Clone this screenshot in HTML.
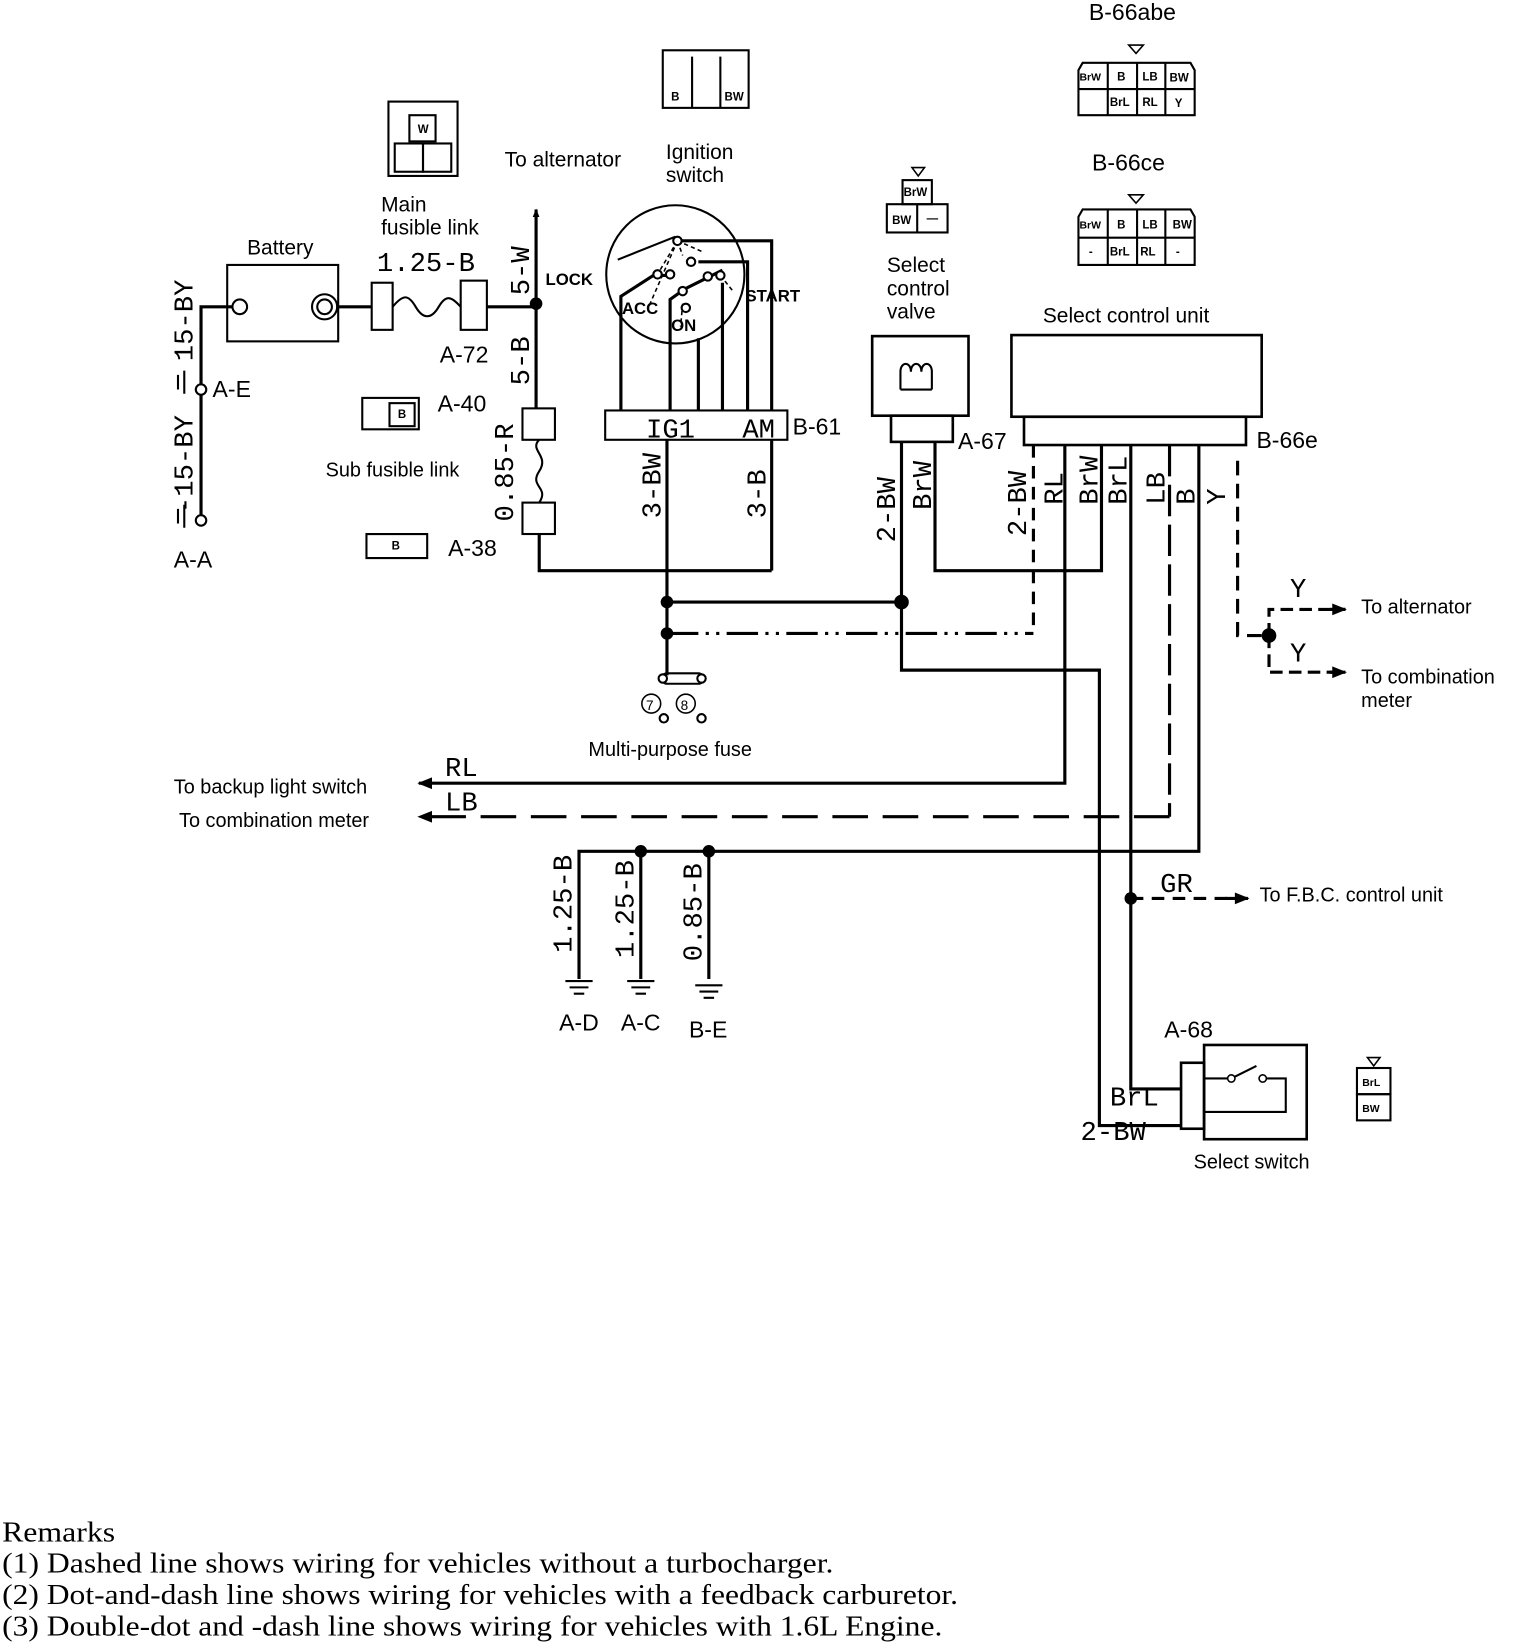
<!DOCTYPE html>
<html><head><meta charset="utf-8"><style>
html,body{margin:0;padding:0;background:#fff;}
svg{display:block;}
text{font-family:"Liberation Sans",sans-serif;fill:#000;}
.m text, text.m{font-family:"Liberation Mono",monospace;}
.s text, text.s{font-family:"Liberation Serif",serif;}
</style></head><body>
<svg width="1536" height="1646" viewBox="0 0 1467 1572" xmlns="http://www.w3.org/2000/svg">
<defs>
<marker id="ar" viewBox="0 0 10 10" refX="9" refY="5" markerWidth="8" markerHeight="8" orient="auto" markerUnits="userSpaceOnUse"><path d="M0,1 L10,5 L0,9z" fill="#000"/></marker>
<marker id="ar2" viewBox="0 0 10 10" refX="9" refY="5" markerWidth="24" markerHeight="14" orient="auto" markerUnits="userSpaceOnUse"><path d="M0,1 L10,5 L0,9z" fill="#000"/></marker>
</defs>
<g fill="none" stroke="#000" stroke-width="3">
<rect x="217" y="253" width="106" height="73" stroke-width="2"/>
<circle cx="229" cy="293" r="7" stroke-width="2"/>
<circle cx="310" cy="293" r="12" stroke-width="2"/><circle cx="310" cy="293" r="7" stroke-width="2"/>
<path d="M222,293 H192 V500"/>
<path d="M170,372 v-14 M176,376 v-22 M170,500 v-14 M176,504 v-22" stroke-width="2"/>
<circle cx="192" cy="372" r="5" fill="#fff" stroke-width="2"/>
<circle cx="192" cy="497" r="5" fill="#fff" stroke-width="2"/>
<path d="M322,293 H355"/>
<rect x="355" y="270" width="20" height="45" stroke-width="2"/>
<path d="M375,293 c10,-12 15,-12 22,0 s15,12 22,0 s12,-10 21,0" stroke-width="2"/>
<rect x="440" y="268" width="25" height="47" stroke-width="2"/>
<path d="M465,293 H512"/>
<path d="M512,390 V200" marker-end="url(#ar)"/>
<rect x="371" y="97" width="66" height="71" stroke-width="2"/>
<rect x="377" y="137" width="27" height="27" stroke-width="2"/><rect x="404" y="137" width="27" height="27" stroke-width="2"/>
<rect x="391" y="110" width="25" height="25" stroke-width="2"/>
<rect x="499" y="390" width="31" height="30" stroke-width="2"/>
<path d="M515,420 c-10,10 10,15 0,30 s10,15 0,30" stroke-width="2"/>
<rect x="499" y="480" width="31" height="30" stroke-width="2"/>
<path d="M515,510 V545 H737"/>
<rect x="346" y="380" width="54" height="30" stroke-width="2"/><rect x="372" y="385" width="24" height="22" stroke-width="2"/>
<path d="M350,510 H408 V533 H350z" stroke-width="2"/>
<rect x="633" y="48" width="82" height="55" stroke-width="2"/>
<path d="M661,54 V103 M688,54 V103" stroke-width="2"/>
<circle cx="645" cy="262" r="66" stroke-width="2"/>
<path d="M593,392 V283 L624,263 H640"/>
<path d="M640,392 V286 L654,276 L690,258"/>
<path d="M667,392 V323"/>
<path d="M690,392 V270"/>
<path d="M714,392 V250 H667"/>
<path d="M737,392 V230 H647"/>
<path d="M590,248 L645,226" stroke-width="2"/>
<path d="M647,230 L628,262 M647,230 L620,292 M647,230 L652,244 M647,230 L670,240 M688,263 L700,278 M652,290 L650,312" stroke-width="1.5" stroke-dasharray="4,3"/>
<circle cx="647" cy="230" r="4" fill="#fff" stroke-width="2"/>
<circle cx="660" cy="250" r="4" fill="#fff" stroke-width="2"/>
<circle cx="628" cy="262" r="4" fill="#fff" stroke-width="2"/>
<circle cx="640" cy="262" r="4" fill="#fff" stroke-width="2"/>
<circle cx="652" cy="278" r="4" fill="#fff" stroke-width="2"/>
<circle cx="676" cy="264" r="4" fill="#fff" stroke-width="2"/>
<circle cx="688" cy="263" r="4" fill="#fff" stroke-width="2"/>
<circle cx="655" cy="294" r="4" fill="#fff" stroke-width="2"/>
<rect x="578" y="392" width="174" height="28" stroke-width="2" fill="#fff"/>
<path d="M637,420 V645"/>
<path d="M737,420 V545"/>
<path d="M637,575 H861"/>
<path d="M637,605 H987" stroke-dasharray="30,7,3,7,3,7"/>
<rect x="632" y="643" width="40" height="10" rx="5" stroke-width="2"/>
<circle cx="633" cy="648" r="4" fill="#fff" stroke-width="2"/><circle cx="670" cy="648" r="4" fill="#fff" stroke-width="2"/>
<circle cx="622" cy="672" r="9" stroke-width="1.5"/><circle cx="655" cy="672" r="9" stroke-width="1.5"/>
<circle cx="634" cy="686" r="4" stroke-width="2"/><circle cx="670" cy="686" r="4" stroke-width="2"/>
<rect x="847" y="195" width="58" height="27" stroke-width="2"/><path d="M876,195 V222" stroke-width="2"/>
<rect x="862" y="172" width="28" height="23" stroke-width="2"/>
<path d="M871,160 H883 L877,168z" stroke-width="1.5"/>
<rect x="833" y="321" width="92" height="76" stroke-width="2.5"/>
<path d="M860,372 V355 c0,-10 10,-10 10,0 c0,-10 10,-10 10,0 c0,-10 10,-10 10,0 V372 M860,372 H890" stroke-width="2"/>
<rect x="851" y="397" width="59" height="25" stroke-width="2.5"/>
<path d="M861,422 V640 H1050 V1075 H1128"/>
<path d="M893,422 V545 H1052 V425"/>
<rect x="966" y="320" width="239" height="78" stroke-width="2.5"/>
<rect x="978" y="398" width="212" height="27" stroke-width="2.5"/>
<path d="M987,425 V605" stroke-dasharray="12,8"/>
<path d="M1017,425 V748 H400" marker-end="url(#ar2)"/>
<path d="M1117,425 V780" stroke-dasharray="30,8"/>
<path d="M1117,780 H400" stroke-dasharray="34,14" marker-end="url(#ar2)"/>
<path d="M1080,425 V1040 H1128"/>
<path d="M1145,425 V813 H553 V935"/>
<path d="M612,813 V935 M677,813 V935"/>
<path d="M1182,440 V607 H1212" stroke-dasharray="14,8"/>
<path d="M1212,607 V582 H1285 M1212,607 V642 H1285" stroke-dasharray="12,6"/>
<path d="M1270,582 H1285" marker-end="url(#ar2)"/>
<path d="M1270,642 H1285" marker-end="url(#ar2)"/>
<path d="M1080,858 H1190" stroke-dasharray="12,8"/>
<path d="M1170,858 H1192" marker-end="url(#ar2)"/>
<path d="M540,937 h26 M544,943 h18 M548,949 h10 M599,937 h26 M603,943 h18 M607,949 h10 M664,941 h26 M668,947 h18 M672,953 h10" stroke-width="2"/>
<path d="M1030,67 V110 H1141 V67 L1137,60 H1034 Z" stroke-width="2"/>
<path d="M1030,85 H1141 M1058,60 V110 M1086,60 V110 M1113,60 V110" stroke-width="2"/>
<path d="M1078,43 H1092 L1085,51z" stroke-width="1.5"/>
<path d="M1030,207 V253 H1141 V207 L1137,200 H1034 Z" stroke-width="2"/>
<path d="M1030,227 H1141 M1058,200 V253 M1086,200 V253 M1113,200 V253" stroke-width="2"/>
<path d="M1078,186 H1092 L1085,194z" stroke-width="1.5"/>
<rect x="1150" y="998" width="98" height="90" stroke-width="2.5"/>
<rect x="1128" y="1015" width="22" height="63" stroke-width="2.5"/>
<path d="M1150,1030 H1176 L1200,1018 M1208,1030 H1228 V1062 H1150" stroke-width="2"/>
<circle cx="1176" cy="1030" r="3.5" fill="#fff" stroke-width="1.5"/><circle cx="1206" cy="1030" r="3.5" fill="#fff" stroke-width="1.5"/>
<rect x="1296" y="1020" width="32" height="25" stroke-width="2"/><rect x="1296" y="1045" width="32" height="25" stroke-width="2"/>
<path d="M1306,1010 H1318 L1312,1018z" stroke-width="1.5"/>
</g>
<g fill="#000">
<circle cx="512" cy="290" r="6"/><circle cx="637" cy="575" r="6"/><circle cx="637" cy="605" r="6"/>
<circle cx="861" cy="575" r="7"/><circle cx="1212" cy="607" r="7"/><circle cx="612" cy="813" r="6"/>
<circle cx="677" cy="813" r="6"/><circle cx="1080" cy="858" r="6"/>
</g>
<g font-size="20">
<text x="236" y="243">Battery</text>
<text x="364" y="202">Main</text><text x="364" y="224">fusible link</text>
<text x="482" y="159">To alternator</text>
<text x="636" y="152">Ignition</text><text x="636" y="174">switch</text>
<text x="847" y="260">Select</text><text x="847" y="282">control</text><text x="847" y="304">valve</text>
<text x="996" y="308">Select control unit</text>
<text x="1040" y="19" font-size="22">B-66abe</text>
<text x="1043" y="163" font-size="22">B-66ce</text>
<text x="203" y="379" font-size="22">A-E</text>
<text x="166" y="542" font-size="22">A-A</text>
<text x="420" y="346" font-size="22">A-72</text>
<text x="418" y="393" font-size="22">A-40</text>
<text x="311" y="455" font-size="19">Sub fusible link</text>
<text x="428" y="531" font-size="22">A-38</text>
<text x="757" y="415" font-size="22">B-61</text>
<text x="915" y="429" font-size="22">A-67</text>
<text x="1200" y="428" font-size="22">B-66e</text>
<text x="562" y="722" font-size="19">Multi-purpose fuse</text>
<text x="166" y="758" font-size="19">To backup light switch</text>
<text x="171" y="790" font-size="19">To combination meter</text>
<text x="1300" y="586" font-size="19">To alternator</text>
<text x="1300" y="653" font-size="19">To combination</text><text x="1300" y="675" font-size="19">meter</text>
<text x="1203" y="861" font-size="19">To F.B.C. control unit</text>
<text x="534" y="984" font-size="22">A-D</text><text x="593" y="984" font-size="22">A-C</text><text x="658" y="991" font-size="22">B-E</text>
<text x="1112" y="991" font-size="22">A-68</text>
<text x="1140" y="1116" font-size="19">Select switch</text>
<text x="521" y="272" font-size="16" font-weight="bold">LOCK</text>
<text x="712" y="288" font-size="16" font-weight="bold">START</text>
<text x="594" y="300" font-size="16" font-weight="bold">ACC</text>
<text x="641" y="316" font-size="16" font-weight="bold">ON</text>
<text x="617" y="678" font-size="13">7</text><text x="650" y="678" font-size="13">8</text>
</g>
<g class="m" font-size="26">
<text x="360" y="259">1.25-B</text>
<text x="617" y="418">IG1</text><text x="709" y="418">AM</text>
<text x="425" y="741">RL</text><text x="425" y="774">LB</text>
<text x="1108" y="852">GR</text>
<text x="1232" y="570">Y</text><text x="1232" y="632">Y</text>
<text x="1060" y="1056">BrL</text><text x="1032" y="1089">2-BW</text>
<text transform="translate(184,345) rotate(-90)">15-BY</text>
<text transform="translate(184,490) rotate(-90)">-15-BY</text>
<text transform="translate(505,282) rotate(-90)">5-W</text>
<text transform="translate(505,368) rotate(-90)">5-B</text>
<text transform="translate(490,498) rotate(-90)">0.85-R</text>
<text transform="translate(631,495) rotate(-90)">3-BW</text>
<text transform="translate(731,495) rotate(-90)">3-B</text>
<text transform="translate(855,518) rotate(-90)">2-BW</text>
<text transform="translate(889,487) rotate(-90)">BrW</text>
<text transform="translate(980,512) rotate(-90)">2-BW</text>
<text transform="translate(1015,482) rotate(-90)">RL</text>
<text transform="translate(1048,482) rotate(-90)">BrW</text>
<text transform="translate(1076,482) rotate(-90)">BrL</text>
<text transform="translate(1112,482) rotate(-90)">LB</text>
<text transform="translate(1141,482) rotate(-90)">B</text>
<text transform="translate(1170,482) rotate(-90)">Y</text>
<text transform="translate(546,910) rotate(-90)">1.25-B</text>
<text transform="translate(605,915) rotate(-90)">1.25-B</text>
<text transform="translate(670,918) rotate(-90)">0.85-B</text>
</g>
<g font-size="11" font-weight="bold">
<text x="399" y="127">W</text>
<text x="380" y="399">B</text>
<text x="374" y="525">B</text>
<text x="641" y="96">B</text><text x="692" y="96">BW</text>
<text x="863" y="187">BrW</text><text x="852" y="214">BW</text><text x="885" y="212">—</text>
<text x="1031" y="77" font-size="10">BrW</text><text x="1067" y="77">B</text><text x="1091" y="77">LB</text><text x="1117" y="78">BW</text>
<text x="1060" y="101">BrL</text><text x="1091" y="101">RL</text><text x="1122" y="102">Y</text>
<text x="1031" y="218" font-size="10">BrW</text><text x="1067" y="218">B</text><text x="1091" y="218">LB</text><text x="1120" y="218">BW</text>
<text x="1040" y="244">-</text><text x="1060" y="244">BrL</text><text x="1089" y="244">RL</text><text x="1123" y="244">-</text>
<text x="1301" y="1037" font-size="10">BrL</text><text x="1301" y="1062" font-size="10">BW</text>
</g>
<g class="s" font-size="27">
<text x="2" y="1472" textLength="108" lengthAdjust="spacingAndGlyphs">Remarks</text>
<text x="2" y="1502" textLength="794" lengthAdjust="spacingAndGlyphs">(1)  Dashed line shows wiring for vehicles without a turbocharger.</text>
<text x="2" y="1532" textLength="913" lengthAdjust="spacingAndGlyphs">(2)  Dot-and-dash line shows wiring for vehicles with a feedback carburetor.</text>
<text x="2" y="1562" textLength="898" lengthAdjust="spacingAndGlyphs">(3)  Double-dot and -dash line shows wiring for vehicles with 1.6L Engine.</text>
</g>
</svg>
</body></html>
